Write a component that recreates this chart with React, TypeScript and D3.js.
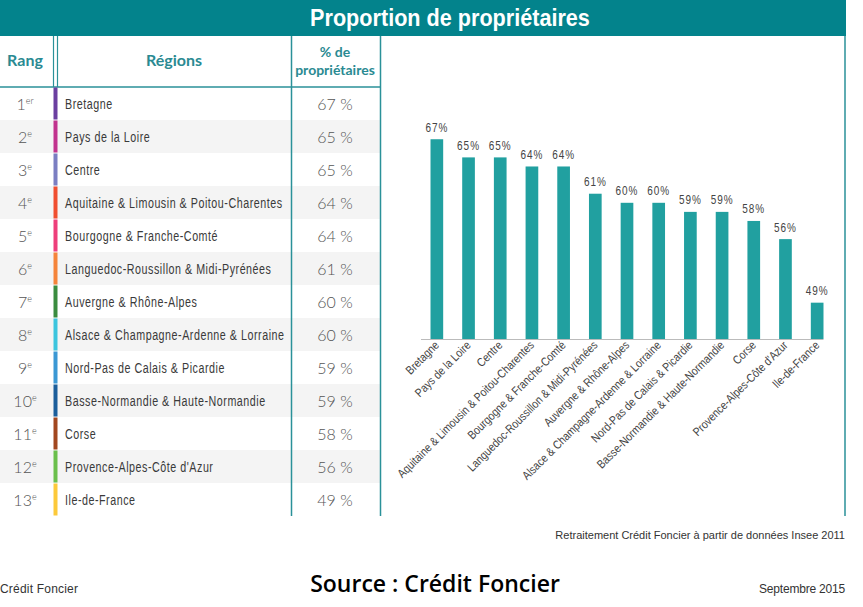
import React from "react";
import * as d3 from "d3";

const ranks = ["1", "2", "3", "4", "5", "6", "7", "8", "9", "10", "11", "12", "13"];
const rankSuffix = ["er", "e", "e", "e", "e", "e", "e", "e", "e", "e", "e", "e", "e"];
const regions = [
  "Bretagne",
  "Pays de la Loire",
  "Centre",
  "Aquitaine & Limousin & Poitou-Charentes",
  "Bourgogne & Franche-Comté",
  "Languedoc-Roussillon & Midi-Pyrénées",
  "Auvergne & Rhône-Alpes",
  "Alsace & Champagne-Ardenne & Lorraine",
  "Nord-Pas de Calais & Picardie",
  "Basse-Normandie & Haute-Normandie",
  "Corse",
  "Provence-Alpes-Côte d'Azur",
  "Ile-de-France",
];
const values = [67, 65, 65, 64, 64, 61, 60, 60, 59, 59, 58, 56, 49];
const regionColors = [
  "#6b3fa0", "#c1328e", "#7b7ec2", "#f04e30", "#ee3f7b", "#f5843a",
  "#3a8c3f", "#3cc5de", "#3b98d4", "#1b5e9b", "#a2471f", "#6abf4b", "#fcc93a",
];

const TEAL = "#03838c";
const LINE = "#2a9199";
const BAR = "#21a0a0";
const SANS = "'Liberation Sans', Arial, sans-serif";

export default function App() {
  const W = 863, H = 607;
  const headerBottom = 87;
  const rowH = 33;
  const x = d3.scaleBand<string>().domain(regions).range([421, 833]).paddingInner(0.6).paddingOuter(0.3);
  const y = d3.scaleLinear().domain([45, 70]).range([339, 112]);
  const rowY = d3.scaleBand<string>().domain(regions).range([headerBottom, headerBottom + rowH * regions.length]);
  const tableBottom = headerBottom + rowH * regions.length;

  return (
    <svg width={W} height={H} style={{ position: "absolute", left: 0, top: 0, background: "#fff" }}>
      {/* title band */}
      <rect x={0} y={0} width={846} height={36} fill={TEAL} />
      <text transform="translate(450,20) scale(0.94,1)" textAnchor="middle" dominantBaseline="middle" fill="#fff"
        fontFamily={SANS} fontWeight="bold" fontSize={23}>Proportion de propriétaires</text>

      {/* row backgrounds */}
      {regions.map((r, i) => (
        i % 2 === 1 ? <rect key={"bg" + i} x={0} y={rowY(r)!} width={380} height={rowH} fill="#f4f4f4" /> : null
      ))}

      {/* table header */}
      <text x={25} y={62} textAnchor="middle" dominantBaseline="middle" fill="#2a8a92" fontFamily="Lato, 'Open Sans', sans-serif" fontWeight="bold" fontSize={16}>Rang</text>
      <text x={174} y={62} textAnchor="middle" dominantBaseline="middle" fill="#2a8a92" fontFamily="Lato, 'Open Sans', sans-serif" fontWeight="bold" fontSize={16}>Régions</text>
      <text x={335} y={53} textAnchor="middle" dominantBaseline="middle" fill="#2a8a92" fontFamily="Lato, 'Open Sans', sans-serif" fontWeight="bold" fontSize={14}>% de</text>
      <text x={335} y={71} textAnchor="middle" dominantBaseline="middle" fill="#2a8a92" fontFamily="Lato, 'Open Sans', sans-serif" fontWeight="bold" fontSize={14}>propriétaires</text>

      {/* table lines */}
      <line x1={0} x2={381} y1={headerBottom} y2={headerBottom} stroke={LINE} strokeWidth={1.5} />
      <line x1={53.5} x2={53.5} y1={36} y2={headerBottom} stroke={LINE} strokeWidth={1.2} />
      <line x1={57.5} x2={57.5} y1={36} y2={headerBottom} stroke={LINE} strokeWidth={1.2} />
      <line x1={291.5} x2={291.5} y1={36} y2={tableBottom} stroke={LINE} strokeWidth={1.5} />
      <line x1={380.5} x2={380.5} y1={36} y2={tableBottom} stroke={LINE} strokeWidth={1.5} />
      <line x1={845} x2={845} y1={36} y2={tableBottom} stroke={LINE} strokeWidth={1.5} />

      {/* table rows */}
      {regions.map((r, i) => {
        const cy = rowY(r)! + rowH / 2;
        return (
          <g key={"row" + i}>
            <rect x={53.5} y={rowY(r)! + 0.5} width={4} height={rowH - 1} fill={regionColors[i]} />
            <text x={25} y={cy + 6} textAnchor="middle" fill="#555" fontFamily="Lato, sans-serif" fontWeight={300} fontSize={16}>
              {ranks[i]}
              <tspan fontSize={9} dy={-6}>{rankSuffix[i]}</tspan>
            </text>
            <text transform={`translate(65,${cy + 5}) scale(0.74,1)`} fill="#3a3a3a" fontFamily={SANS} fontSize={14.5} letterSpacing={0.7}>{r}</text>
            <text x={335} y={cy + 6} textAnchor="middle" fill="#555" fontFamily="Lato, sans-serif" fontWeight={300} fontSize={16}>
              {values[i]} %
            </text>
          </g>
        );
      })}

      {/* bar chart */}
      {regions.map((r, i) => {
        const cx = x(r)! + x.bandwidth() / 2;
        return (
          <g key={"bar" + i}>
            <rect x={x(r)!} y={y(values[i])} width={x.bandwidth()} height={y(45) - y(values[i])} fill={BAR} />
            <text transform={`translate(${cx},${y(values[i]) - 7.5}) scale(0.8,1)`} textAnchor="middle" fill="#444"
              fontFamily={SANS} fontSize={12.5} letterSpacing={1.2}>{values[i]}%</text>
            <text transform={`translate(${cx + 3},346) rotate(-45) scale(0.85,1)`} textAnchor="end"
              fill="#444" fontFamily={SANS} fontSize={12}>{r}</text>
          </g>
        );
      })}
      <line x1={421} x2={823.5} y1={339.5} y2={339.5} stroke="#bbb" strokeWidth={1} />

      {/* footer */}
      <text x={845} y={539} textAnchor="end" fill="#333" fontFamily={SANS} fontSize={11}>
        Retraitement Crédit Foncier à partir de données Insee 2011
      </text>
      <text x={0} y={593} fill="#333" fontFamily={SANS} fontSize={12} letterSpacing={0.2}>Crédit Foncier</text>
      <text x={435} y={592} textAnchor="middle" fill="#000" fontFamily="'Open Sans', sans-serif" fontWeight={600} fontSize={23}>Source : Crédit Foncier</text>
      <text x={845} y={593} textAnchor="end" fill="#333" fontFamily={SANS} fontSize={12} letterSpacing={-0.2}>Septembre 2015</text>
    </svg>
  );
}
